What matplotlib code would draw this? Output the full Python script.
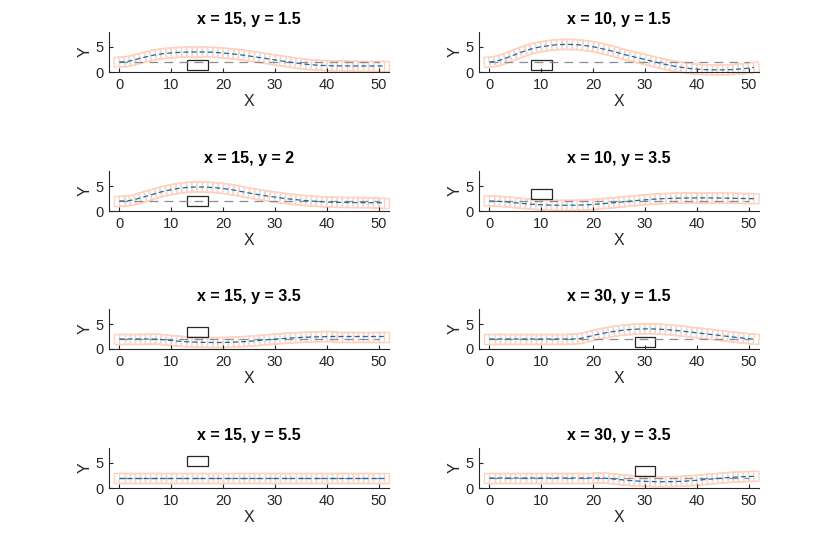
import numpy as np
import matplotlib
matplotlib.use("Agg")
import matplotlib.pyplot as plt
from matplotlib.patches import Polygon, Rectangle

plt.rcParams['font.family'] = ['Liberation Sans', 'DejaVu Sans']

# ---- data ----
titles = ["x = 15, y = 1.5", "x = 10, y = 1.5",
          "x = 15, y = 2", "x = 10, y = 3.5",
          "x = 15, y = 3.5", "x = 30, y = 1.5",
          "x = 15, y = 5.5", "x = 30, y = 3.5"]
obstacle_x = [15, 10, 15, 10, 15, 30, 15, 30]
obstacle_y = [1.5, 1.5, 2, 3.5, 3.5, 1.5, 5.5, 3.5]

path_x = list(range(0, 52))

path_y_1 = [2.0, 2.05, 2.2, 2.45, 2.75, 3.0, 3.25, 3.45, 3.6, 3.72, 3.82, 3.9, 3.95, 3.98, 4.0, 4.0,
            4.0, 3.98, 3.94, 3.88, 3.8, 3.7, 3.6, 3.48, 3.35, 3.2, 3.05, 2.9, 2.74, 2.58, 2.42, 2.26,
            2.1, 1.95, 1.8, 1.67, 1.55, 1.45, 1.38, 1.32, 1.28, 1.25, 1.23, 1.22, 1.21, 1.2, 1.2, 1.2,
            1.2, 1.2, 1.2, 1.2]
path_y_2 = [2.0, 2.1, 2.35, 2.7, 3.1, 3.5, 3.9, 4.25, 4.6, 4.85, 5.05, 5.2, 5.35, 5.45, 5.5, 5.52,
            5.5, 5.45, 5.35, 5.2, 5.05, 4.85, 4.6, 4.35, 4.1, 3.8, 3.5, 3.25, 3.0, 2.75, 2.5, 2.25,
            2.0, 1.75, 1.5, 1.3, 1.1, 0.95, 0.8, 0.67, 0.57, 0.5, 0.46, 0.44, 0.43, 0.43, 0.45, 0.5,
            0.57, 0.66, 0.78, 0.9]
path_y_3 = [2.0, 2.0, 2.1, 2.3, 2.6, 2.9, 3.2, 3.5, 3.8, 4.05, 4.25, 4.45, 4.6, 4.7, 4.78, 4.8,
            4.8, 4.77, 4.7, 4.6, 4.5, 4.35, 4.2, 4.0, 3.8, 3.6, 3.42, 3.25, 3.08, 2.92, 2.78, 2.64,
            2.5, 2.38, 2.27, 2.17, 2.08, 2.0, 1.92, 1.86, 1.8, 1.76, 1.73, 1.71, 1.7, 1.69, 1.68, 1.67,
            1.66, 1.65, 1.65, 1.65]
path_y_4 = [2.0, 1.97, 1.92, 1.85, 1.75, 1.65, 1.55, 1.45, 1.37, 1.3, 1.25, 1.2, 1.17, 1.15, 1.14, 1.14,
            1.15, 1.17, 1.2, 1.25, 1.32, 1.4, 1.48, 1.57, 1.66, 1.75, 1.85, 1.95, 2.05, 2.15, 2.23, 2.31,
            2.38, 2.44, 2.49, 2.53, 2.56, 2.58, 2.6, 2.61, 2.62, 2.62, 2.62, 2.61, 2.6, 2.58, 2.56, 2.54,
            2.52, 2.5, 2.48, 2.46]
path_y_5 = [2.0, 2.0, 2.0, 2.0, 2.0, 2.0, 2.0, 1.97, 1.9, 1.8, 1.7, 1.6, 1.52, 1.45, 1.4, 1.36,
            1.33, 1.31, 1.3, 1.3, 1.31, 1.33, 1.37, 1.42, 1.48, 1.55, 1.63, 1.72, 1.81, 1.9, 1.98, 2.06,
            2.13, 2.2, 2.26, 2.31, 2.36, 2.4, 2.43, 2.46, 2.48, 2.5, 2.5, 2.5, 2.5, 2.5, 2.5, 2.5,
            2.5, 2.5, 2.5, 2.5]
path_y_6 = [2.0, 2.0, 2.0, 2.0, 2.0, 2.0, 2.0, 2.0, 2.0, 2.0, 2.0, 2.0, 2.0, 2.0, 2.0, 2.0,
            2.0, 2.05, 2.2, 2.45, 2.7, 2.95, 3.15, 3.35, 3.52, 3.66, 3.78, 3.88, 3.95, 4.0, 4.02, 4.02,
            4.0, 3.95, 3.88, 3.8, 3.7, 3.6, 3.48, 3.36, 3.24, 3.12, 3.0, 2.88, 2.76, 2.64, 2.52, 2.4,
            2.28, 2.17, 2.06, 1.98]
path_y_7 = [2.0] * 52
path_y_8 = [2.0, 2.0, 2.0, 2.0, 2.0, 2.0, 2.0, 2.0, 2.0, 2.0, 2.0, 2.0, 2.0, 2.0, 2.0, 2.0,
            2.0, 2.0, 2.0, 2.0, 2.0, 2.0, 1.97, 1.9, 1.8, 1.7, 1.6, 1.5, 1.42, 1.36, 1.32, 1.29,
            1.27, 1.26, 1.26, 1.27, 1.3, 1.34, 1.4, 1.47, 1.55, 1.64, 1.73, 1.82, 1.91, 2.0, 2.08, 2.15,
            2.21, 2.26, 2.3, 2.33]
paths = [path_y_1, path_y_2, path_y_3, path_y_4, path_y_5, path_y_6, path_y_7, path_y_8]

ref_x = [0, 50]
ref_y = [2, 2]
xticks = [0, 10, 20, 30, 40, 50]
yticks = [0, 5]

# ---- styling ----
W, H = 836, 535
fig = plt.figure(figsize=(W / 100, H / 100), dpi=100)
ax_w, ax_h = 280 / W, 40 / H
lefts = [109 / W, 479 / W]
bottoms = [1 - 72 / H, 1 - 211 / H, 1 - 349 / H, 1 - 488 / H]

box_half_len, box_half_wid = 1.0, 1.0
obs_w, obs_h = 4, 2
axcol = (0.15, 0.15, 0.15)
box_col = '#FCD2C0'

for i in range(8):
    r, c = divmod(i, 2)
    ax = fig.add_axes([lefts[c], bottoms[r], ax_w, ax_h])
    px = np.array(path_x, float)
    py = np.array(paths[i], float)
    th = np.arctan2(np.gradient(py), np.gradient(px))
    for xx, yy, t in zip(px, py, th):
        ct, st = np.cos(t), np.sin(t)
        corners = []
        for a, b in [(-1, -1), (1, -1), (1, 1), (-1, 1)]:
            dx, dy = a * box_half_len, b * box_half_wid
            corners.append((xx + dx * ct - dy * st, yy + dx * st + dy * ct))
        ax.add_patch(Polygon(corners, closed=True, fill=False,
                             edgecolor=box_col, lw=1.0, clip_on=False))
    ax.plot(ref_x, ref_y, '--', color=(0.55, 0.55, 0.55), lw=0.9, dashes=(7, 5))
    ax.plot(px, py, '--', color='#0072BD', lw=0.9, dashes=(4, 2.5))
    ax.add_patch(Rectangle((obstacle_x[i] - obs_w / 2, obstacle_y[i] - obs_h / 2), obs_w, obs_h,
                           fill=False, edgecolor=axcol, lw=0.9, clip_on=False))
    ax.set_xlim(-2, 52)
    ax.set_ylim(0, 8)
    ax.set_xticks(xticks)
    ax.set_yticks(yticks)
    for s in ['top', 'right']:
        ax.spines[s].set_visible(False)
    for s in ['left', 'bottom']:
        ax.spines[s].set_color(axcol)
        ax.spines[s].set_linewidth(0.8)
    ax.tick_params(direction='in', length=3, width=0.8, colors=axcol, labelsize=10.5, pad=4)
    ax.set_xlabel('X', fontsize=11.5, color=axcol, labelpad=2)
    ax.set_ylabel('Y', fontsize=11.5, color=axcol, labelpad=2)
    ax.set_title(titles[i], fontsize=11.5, fontweight='bold', color='black', pad=6)

fig.savefig('out.png', dpi=100)
